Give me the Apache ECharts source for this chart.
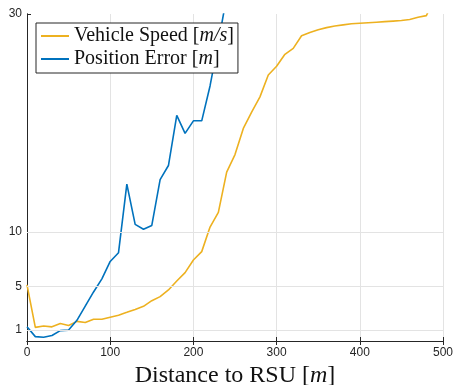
<!DOCTYPE html>
<html>
<head>
<meta charset="utf-8">
<script src="https://cdn.jsdelivr.net/npm/echarts@6/dist/echarts.min.js"></script>
<style>
  html, body { margin: 0; padding: 0; background: #fff; }
  #main { width: 453px; height: 385px; }
</style>
</head>
<body>
<div id="main"></div>
<script>
// distance to RSU [m]
const speedDist = [0, 10, 20, 30, 40, 50, 60, 70, 80, 90, 100, 110, 120, 130, 140, 150, 160, 170, 180, 190,
  200, 210, 220, 230, 240, 250, 260, 270, 280, 290, 300, 310, 320, 330, 340, 350, 360, 370, 380, 390,
  400, 410, 420, 430, 440, 450, 460, 470, 480, 490];
const vehicleSpeed = [5.15, 1.25, 1.37, 1.3, 1.6, 1.42, 1.8, 1.7, 1.99, 1.99, 2.18, 2.37, 2.63, 2.9, 3.18, 3.7, 4.07, 4.68, 5.5, 6.27,
  7.43, 8.2, 10.45, 11.8, 15.5, 17.1, 19.5, 21.0, 22.4, 24.4, 25.2, 26.3, 26.85, 28.0, 28.3, 28.55, 28.75, 28.9, 29.0, 29.1,
  29.15, 29.2, 29.25, 29.3, 29.35, 29.4, 29.5, 29.7, 29.85, 31.5];

const errorDist = [0, 10, 20, 30, 40, 50, 60, 70, 80, 90, 100, 110, 120, 130, 140, 150, 160, 170, 180, 190,
  200, 210, 220, 230, 240, 250];
const positionError = [1.3, 0.4, 0.35, 0.5, 0.95, 1.0, 1.9, 3.2, 4.5, 5.7, 7.3, 8.1, 14.4, 10.7, 10.25, 10.6, 14.8, 16.1, 20.7, 19.05,
  20.2, 20.2, 23.4, 27.4, 31.6, 35];

const xTicks = [0, 100, 200, 300, 400, 500];
const yTicks = [1, 5, 10, 30];
const yGrid = [1, 5, 10];

const axisColor = '#262626';
const serif = '"Liberation Serif", "DejaVu Serif", serif';
const sans = '"Liberation Sans", Arial, sans-serif';

const pair = (xs, ys) => xs.map((x, i) => [x, ys[i]]);

const legendRich = {
  n: { fontFamily: serif, fontSize: 20, color: '#111', lineHeight: 22 },
  i: { fontFamily: serif, fontSize: 20, fontStyle: 'italic', color: '#111', lineHeight: 22 }
};

const chart = echarts.init(document.getElementById('main'));
chart.setOption({
  animation: false,
  backgroundColor: '#fff',
  grid: { left: 27, right: 10, top: 14, bottom: 44, containLabel: false, outerBoundsMode: 'none' },
  legend: {
    orient: 'vertical',
    left: 36,
    top: 23,
    padding: [3, 4, 4, 5],
    itemGap: 3,
    itemWidth: 28,
    itemHeight: 2,
    icon: 'rect',
    borderColor: axisColor,
    borderWidth: 1,
    backgroundColor: '#fff',
    data: ['Vehicle Speed', 'Position Error'],
    formatter: function (name) {
      if (name === 'Vehicle Speed') return '{n|Vehicle Speed [}{i|m/s}{n|]}';
      return '{n|Position Error [}{i|m}{n|]}';
    },
    textStyle: { rich: legendRich }
  },
  xAxis: [{
    type: 'value',
    min: 0, max: 500, interval: 100,
    axisLine: { lineStyle: { color: axisColor, width: 1 } },
    axisTick: { inside: true, length: 4, lineStyle: { color: axisColor } },
    axisLabel: { color: axisColor, fontFamily: sans, fontSize: 12, margin: 6, customValues: xTicks },
    splitLine: { show: true, lineStyle: { color: '#e3e3e3', width: 1 } },
    name: '{n|Distance to RSU [}{i|m}{n|]}',
    nameLocation: 'middle',
    nameGap: 19,
    nameTextStyle: {
      verticalAlign: 'top',
      rich: {
        n: { fontFamily: serif, fontSize: 24, color: '#111' },
        i: { fontFamily: serif, fontSize: 24, fontStyle: 'italic', color: '#111' }
      }
    }
  }, {
    type: 'value',
    position: 'top',
    min: 0, max: 500, interval: 100,
    axisLine: { show: true, lineStyle: { color: axisColor, width: 1 } },
    axisTick: { show: true, inside: true, length: 4, lineStyle: { color: axisColor } },
    axisLabel: { show: false },
    splitLine: { show: false }
  }],
  yAxis: [{
    type: 'value',
    position: 'left',
    min: 0, max: 30,
    axisLine: { show: true, lineStyle: { color: axisColor, width: 1 } },
    axisTick: { show: true, inside: true, length: 4, customValues: yTicks, lineStyle: { color: axisColor } },
    axisLabel: { color: axisColor, fontFamily: sans, fontSize: 12, margin: 5, customValues: yTicks },
    splitLine: { show: false }
  }, {
    type: 'value',
    position: 'right',
    min: 0, max: 30,
    axisLine: { show: true, lineStyle: { color: axisColor, width: 1 } },
    axisTick: { show: false },
    axisLabel: { show: false },
    splitLine: { show: false }
  }],
  series: [{
    name: 'grid',
    type: 'line',
    data: [],
    z: 1,
    silent: true,
    markLine: {
      silent: true,
      symbol: 'none',
      label: { show: false },
      lineStyle: { color: '#e3e3e3', width: 1, type: 'solid' },
      data: yGrid.map(v => ({ yAxis: v }))
    }
  }, {
    name: 'Vehicle Speed',
    type: 'line',
    data: pair(speedDist, vehicleSpeed),
    showSymbol: false,
    symbol: 'none',
    z: 3,
    lineStyle: { color: '#EDB120', width: 1.6 },
    itemStyle: { color: '#EDB120' }
  }, {
    name: 'Position Error',
    type: 'line',
    data: pair(errorDist, positionError),
    showSymbol: false,
    symbol: 'none',
    z: 3,
    lineStyle: { color: '#0072BD', width: 1.6 },
    itemStyle: { color: '#0072BD' }
  }]
});
</script>
</body>
</html>
